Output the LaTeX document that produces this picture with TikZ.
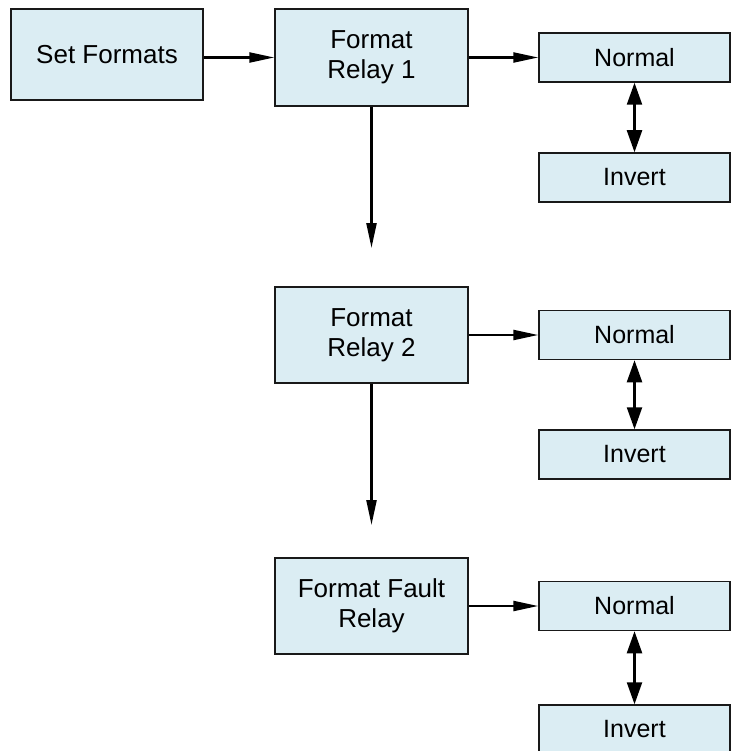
\documentclass[tikz,border=0pt]{standalone}
\usepackage{fontspec}
\setmainfont{Liberation Sans}
\usetikzlibrary{arrows.meta}
\definecolor{boxfill}{RGB}{219,237,243}
\definecolor{boxline}{RGB}{25,25,25}
\tikzset{
  bigbox/.style={draw=boxline, line width=1.5pt, fill=boxfill, inner sep=0pt,
    minimum width=193pt, minimum height=97pt, align=center,
    font=\fontsize{26}{30}\selectfont},
  smallbox/.style={draw=boxline, line width=1.5pt, fill=boxfill, inner sep=0pt,
    minimum width=191pt, minimum height=49pt, align=center,
    font=\fontsize{25}{29}\selectfont},
  arr/.style={line width=2.3pt, -{Triangle[length=25pt,width=10pt]}},
  darr/.style={line width=2.3pt, {Triangle[length=22pt,width=15pt]}-{Triangle[length=22pt,width=15pt]}}
}
\begin{document}
\begin{tikzpicture}[x=1pt,y=-1pt]
\useasboundingbox (0,0) rectangle (731,751);
\node[bigbox, minimum width=192pt, minimum height=91pt] (sf) at (107,54.5) {Set Formats};
\node[bigbox] (fr1) at (371.5,57.5) {Format\\Relay 1};
\node[smallbox] (n1) at (634.5,57.5) {Normal};
\node[smallbox] (i1) at (634.5,177.5) {Invert};
\node[bigbox, minimum height=96pt] (fr2) at (371.5,335) {Format\\Relay 2};
\node[smallbox] (n2) at (634.5,335) {Normal};
\node[smallbox] (i2) at (634.5,454.5) {Invert};
\node[bigbox, minimum height=96pt] (ff) at (371.5,606) {Format Fault\\Relay};
\node[smallbox] (n3) at (634.5,606) {Normal};
\node[smallbox] (i3) at (634.5,729.5) {Invert};
\coordinate (e1) at (371.5,248);
\coordinate (e2) at (371.5,525);
\draw[arr] (sf.east |- fr1.west) -- (fr1.west);
\draw[arr] (fr1.east) -- (n1.west);
\draw[arr] (fr2.east) -- (n2.west);
\draw[arr] (ff.east) -- (n3.west);
\draw[darr] (n1.south) -- (i1.north);
\draw[darr] (n2.south) -- (i2.north);
\draw[darr] (n3.south) -- (i3.north);
\draw[arr] (fr1.south) -- (e1);
\draw[arr] (fr2.south) -- (e2);
\end{tikzpicture}
\end{document}
